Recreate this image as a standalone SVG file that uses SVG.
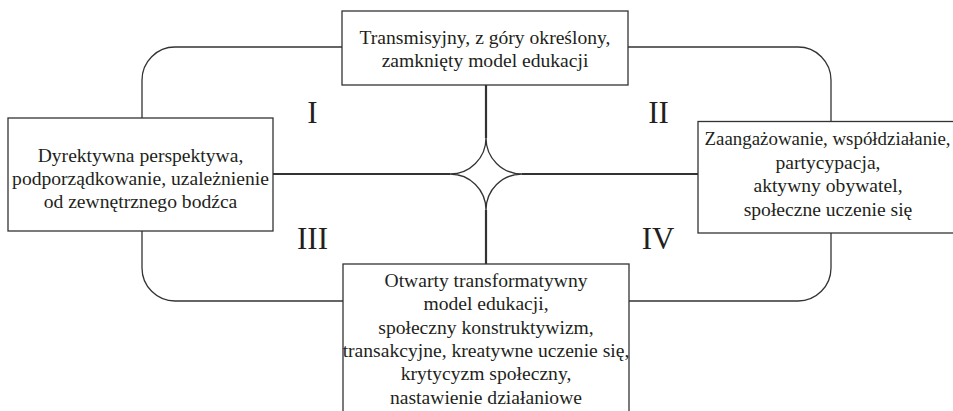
<svg xmlns="http://www.w3.org/2000/svg" width="953" height="411" viewBox="0 0 953 411">
<style>
  .box{fill:#fff;stroke:#333;stroke-width:1.3}
  text{font-family:'Liberation Serif','Times New Roman','DejaVu Serif',serif;fill:#231f20;text-anchor:middle}
  .t{font-size:19.6px}
  .tn{font-size:18.9px}
  .num{font-size:31px}
  .c{fill:none;stroke:#333;stroke-width:1.3}
  .axis{fill:none;stroke:#333;stroke-width:2.2}
</style>
<rect width="953" height="411" fill="#fff"/>
<g id="connectors">
  <path class="c" d="M342,47 H175 A33,33 0 0 0 142,80 V118"/>
  <path class="c" d="M628,47 H798 A33,33 0 0 1 831,80 V121.5"/>
  <path class="c" d="M142,231 V268 A33,33 0 0 0 175,301 H343"/>
  <path class="c" d="M831,233 V268 A33,33 0 0 1 798,301 H629"/>
  <path class="axis" d="M486,85 V138"/>
  <path class="axis" d="M486,210 V264"/>
  <path class="axis" d="M273,174 H450"/>
  <path class="axis" d="M522,174 H698"/>
  <path class="c" d="M486,138 A36,36 0 0 0 522,174 A36,36 0 0 0 486,210 A36,36 0 0 0 450,174 A36,36 0 0 0 486,138 Z"/>
</g>
<g id="node-top">
  <rect class="box" x="342" y="11" width="286" height="74"/>
  <text class="t" x="485" y="44">Transmisyjny, z góry określony,</text>
  <text class="t" x="485" y="67">zamknięty model edukacji</text>
</g>
<g id="node-left">
  <rect class="box" x="8" y="118" width="265" height="113"/>
  <text class="t" x="140.5" y="162">Dyrektywna perspektywa,</text>
  <text class="t" x="140.5" y="185">podporządkowanie, uzależnienie</text>
  <text class="t" x="140.5" y="208">od zewnętrznego bodźca</text>
</g>
<g id="node-right">
  <rect class="box" x="698" y="121.5" width="262" height="111.5"/>
  <text class="tn" x="827.5" y="145">Zaangażowanie, współdziałanie,</text>
  <text class="t" x="828" y="168.5">partycypacja,</text>
  <text class="t" x="828" y="192">aktywny obywatel,</text>
  <text class="t" x="828" y="215.5">społeczne uczenie się</text>
</g>
<g id="node-bottom">
  <rect class="box" x="343" y="264" width="286" height="160"/>
  <text class="t" x="486" y="287">Otwarty transformatywny</text>
  <text class="t" x="486" y="310">model edukacji,</text>
  <text class="t" x="486" y="333.5">społeczny konstruktywizm,</text>
  <text class="t" x="486" y="357">transakcyjne, kreatywne uczenie się,</text>
  <text class="t" x="486" y="380">krytycyzm społeczny,</text>
  <text class="t" x="486" y="403.5">nastawienie działaniowe</text>
</g>
<g id="quadrants">
  <text class="num" x="312.5" y="123">I</text>
  <text class="num" x="658.5" y="123">II</text>
  <text class="num" x="312.5" y="249">III</text>
  <text class="num" x="658" y="249">IV</text>
</g>
</svg>
